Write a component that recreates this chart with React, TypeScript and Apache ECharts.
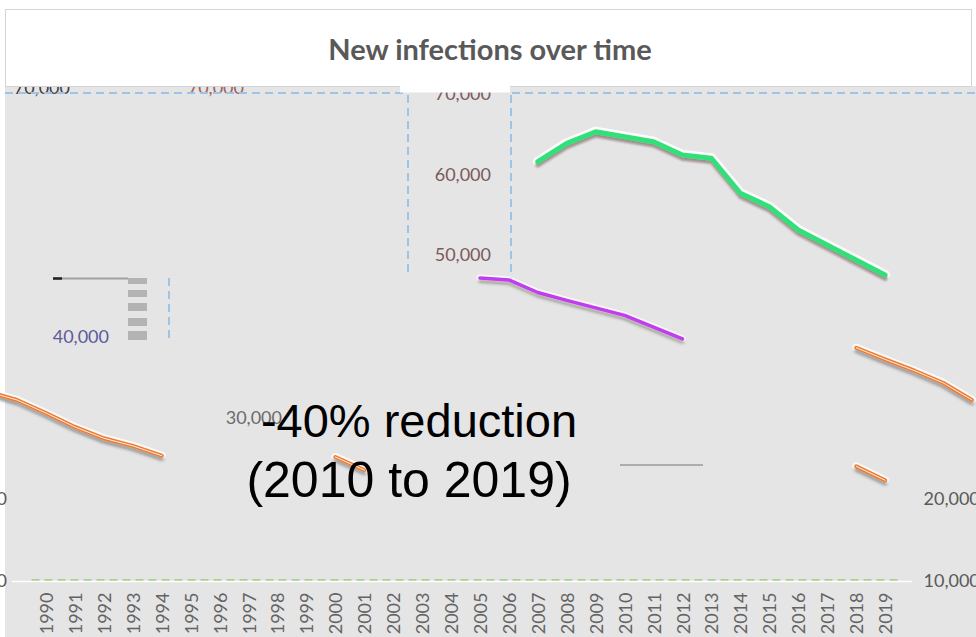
import React, { useEffect, useRef } from "react";
import * as echarts from "echarts";

// ---- data ----
const years = ["1990","1991","1992","1993","1994","1995","1996","1997","1998","1999","2000","2001","2002","2003","2004","2005","2006","2007","2008","2009","2010","2011","2012","2013","2014","2015","2016","2017","2018","2019"];

const greenYears = ["2007","2008","2009","2010","2011","2012","2013","2014","2015","2016","2017","2018","2019"];
const greenValues = [60950, 63190, 64610, 64000, 63390, 61770, 61370, 57100, 55460, 52620, 50790, 48960, 47130];

const purpleYears = ["2005","2006","2007","2008","2009","2010","2011","2012"];
const purpleValues = [46770, 46530, 45000, 44040, 43130, 42210, 40790, 39340];

const orangeRightYears = [2018, 2019, 2020, 2021, 2022];
const orangeRightValues = [38260, 36840, 35490, 33990, 31900];

const orangeLeftYears = [1988, 1989, 1990, 1991, 1992, 1993, 1994];
const orangeLeftValues = [32900, 31890, 30300, 28600, 27220, 26300, 25100];

const orangeMidYears = [2000, 2001];
const orangeMidValues = [24940, 23350];

const orangeTailYears = [2018, 2019];
const orangeTailValues = [23800, 22100];

const rightTicks = [10000, 20000];
const midTicks = [50000, 60000, 70000];
const ticks40 = [40000];
const ticks30 = [30000];
const ticksTopA = [70000];
const ticksTopB = [70000];
const edgeTicks = [10000, 20000];

const fmt = (v: number) => v.toLocaleString("en-US");
const FONT = "Lato, 'Open Sans', sans-serif";

export default function App() {
  const ref = useRef<HTMLDivElement>(null);
  useEffect(() => {
    if (!ref.current) return;
    const chart = echarts.init(ref.current, undefined, { renderer: "svg" });

    const grids: any[] = [
      { left: 31.5, right: 76.5, top: 87.5, bottom: 57.5, containLabel: false, outerBoundsMode: "none" },
      { left: 0, right: 0, top: 87.5, bottom: 57.5, containLabel: false, outerBoundsMode: "none" },
    ];
    const xAxes: any[] = [
      {
        type: "category", gridIndex: 0, data: years, boundaryGap: true,
        axisLine: { show: false }, axisTick: { show: false }, splitLine: { show: false },
        axisLabel: { rotate: 90, interval: 0, color: "#636363", fontSize: 18, fontFamily: FONT, margin: 13 },
      },
      { type: "value", gridIndex: 1, min: 1988.41, max: 2022.14, show: false },
    ];
    const yAxes: any[] = [
      {
        type: "value", gridIndex: 0, min: 10000, max: 70000, interval: 10000, position: "right",
        axisLine: { show: false }, axisTick: { show: false },
        axisLabel: { color: "#595959", fontSize: 18, fontFamily: FONT, margin: 24,
          formatter: (v: number) => (rightTicks.includes(v) ? fmt(v) : "") },
        splitLine: { show: true, lineStyle: {
          color: ["#a9d18e", "transparent", "transparent", "transparent", "transparent", "transparent", "transparent"],
          width: 2, type: [8, 5] } },
      },
      { type: "value", gridIndex: 1, min: 10000, max: 70000, show: false },
    ];

    const addLabelAxis = (rightX: number, y70: number, px10k: number, ticks: number[], color: string) => {
      const gi = grids.length;
      grids.push({ left: rightX + 8, top: y70, width: 2, height: px10k * 6, containLabel: false, outerBoundsMode: "none" });
      xAxes.push({ type: "value", gridIndex: gi, show: false });
      yAxes.push({
        type: "value", gridIndex: gi, min: 10000, max: 70000, interval: 10000, position: "left",
        axisLine: { show: false }, axisTick: { show: false }, splitLine: { show: false },
        axisLabel: { margin: 8, color, fontSize: 18, fontFamily: FONT,
          formatter: (v: number) => (ticks.includes(v) ? fmt(v) : "") },
      });
    };
    addLabelAxis(491, 93, 80.5, midTicks, "#7a5a5a");
    addLabelAxis(109, 89.5, 82, ticks40, "#5b5b9b");
    addLabelAxis(282, 89, 82, ticks30, "#6b6b6b");
    addLabelAxis(244, 87, 82, ticksTopA, "#a06060");
    addLabelAxis(70, 87, 82, ticksTopB, "#404040");
    addLabelAxis(7, 87.5, 82, edgeTicks, "#595959");

    const line = (xIdx: number, yIdx: number, data: any[], color: string, width: number, z: number, extra: any = {}) => ({
      type: "line", xAxisIndex: xIdx, yAxisIndex: yIdx, data, symbol: "none", showSymbol: false,
      clip: false, silent: true, z,
      lineStyle: { color, width, cap: "round", join: "round", ...extra },
    });

    const green = greenYears.map((y, i) => [y, greenValues[i]]);
    const purple = purpleYears.map((y, i) => [y, purpleValues[i]]);
    const oR = orangeRightYears.map((y, i) => [y, orangeRightValues[i]]);
    const oL = orangeLeftYears.map((y, i) => [y, orangeLeftValues[i]]);
    const oM = orangeMidYears.map((y, i) => [y, orangeMidValues[i]]);
    const oT = orangeTailYears.map((y, i) => [y, orangeTailValues[i]]);

    const orangeSet = (d: any[]) => [
      line(1, 1, d, "rgba(255,255,255,0.85)", 8, 2),
      line(1, 1, d, "#ed7d31", 4, 3, { shadowColor: "rgba(60,60,60,0.55)", shadowBlur: 3, shadowOffsetY: 3 }),
      line(1, 1, d, "rgba(255,255,255,0.85)", 1, 4),
    ];

    const series: any[] = [
      line(0, 0, green, "rgba(255,255,255,0.95)", 10, 2),
      line(0, 0, green, "#33e07a", 5, 3, { shadowColor: "rgba(90,60,60,0.6)", shadowBlur: 2, shadowOffsetY: 3 }),
      line(0, 0, purple, "rgba(255,255,255,0.8)", 7, 2),
      line(0, 0, purple, "#c23cf0", 3.5, 3, { shadowColor: "rgba(80,80,60,0.5)", shadowBlur: 3, shadowOffsetY: 3 }),
      ...orangeSet(oR),
      ...orangeSet(oL),
      ...orangeSet(oM),
      ...orangeSet(oT),
    ];

    const dashBlue = { stroke: "#9dc3e6", lineWidth: 2, lineDash: [8, 5] };
    const graphic: any[] = [
      { type: "rect", z: -10, shape: { x: 5, y: 86, width: 971, height: 551 }, style: { fill: "#e5e5e5" } },
      { type: "line", z: 1, shape: { x1: 12, y1: 581.5, x2: 912, y2: 581.5 }, style: { stroke: "#ffffff", lineWidth: 1.5 } },
      { type: "line", z: 1, shape: { x1: 5, y1: 93, x2: 408, y2: 93 }, style: dashBlue },
      { type: "line", z: 1, shape: { x1: 512, y1: 93, x2: 976, y2: 93 }, style: dashBlue },
      { type: "line", z: 1, shape: { x1: 408, y1: 95, x2: 408, y2: 276 }, style: dashBlue },
      { type: "line", z: 1, shape: { x1: 511, y1: 95, x2: 511, y2: 280 }, style: dashBlue },
      { type: "line", z: 1, shape: { x1: 169, y1: 278, x2: 169, y2: 340 }, style: dashBlue },
      { type: "line", z: 1, shape: { x1: 53, y1: 278.5, x2: 128, y2: 278.5 }, style: { stroke: "#a0a0a0", lineWidth: 2 } },
      { type: "line", z: 1, shape: { x1: 53, y1: 278.5, x2: 62, y2: 278.5 }, style: { stroke: "#222222", lineWidth: 2.5 } },
      { type: "rect", z: 1, shape: { x: 128, y: 278, width: 19, height: 6 }, style: { fill: "#b3b3b3" } },
      { type: "rect", z: 1, shape: { x: 128, y: 290, width: 19, height: 7 }, style: { fill: "#b3b3b3" } },
      { type: "rect", z: 1, shape: { x: 128, y: 303, width: 19, height: 8 }, style: { fill: "#b3b3b3" } },
      { type: "rect", z: 1, shape: { x: 128, y: 318, width: 19, height: 8 }, style: { fill: "#b3b3b3" } },
      { type: "rect", z: 1, shape: { x: 128, y: 331, width: 19, height: 9 }, style: { fill: "#b3b3b3" } },
      { type: "line", z: 1, shape: { x1: 620, y1: 465, x2: 703, y2: 465 }, style: { stroke: "#9a9a9a", lineWidth: 1.5 } },
      { type: "rect", z: 60, shape: { x: 400, y: 86, width: 110, height: 6.5 }, style: { fill: "#ffffff" } },
      { type: "rect", z: 50, shape: { x: 5.5, y: 9.5, width: 966, height: 77 }, style: { fill: "#ffffff", stroke: "#d4d4d4", lineWidth: 1 } },
      { type: "text", z: 51, x: 490, y: 48, style: { text: "New infections over time", font: `bold 29px ${FONT}`, fill: "#595959", align: "center", verticalAlign: "middle", textAlign: "center", textVerticalAlign: "middle" } },
      { type: "text", z: 20, x: 419, y: 420, style: { text: "-40% reduction", font: `47px 'Liberation Sans', Arial, sans-serif`, fill: "#000000", align: "center", verticalAlign: "middle", textAlign: "center", textVerticalAlign: "middle" } },
      { type: "text", z: 20, x: 409, y: 480, style: { text: "(2010 to 2019)", font: `50px 'Liberation Sans', Arial, sans-serif`, fill: "#000000", align: "center", verticalAlign: "middle", textAlign: "center", textVerticalAlign: "middle" } },
    ];

    chart.setOption({
      animation: false,
      backgroundColor: "#ffffff",
      grid: grids,
      xAxis: xAxes,
      yAxis: yAxes,
      series,
      graphic,
    });
    return () => chart.dispose();
  }, []);
  return <div ref={ref} style={{ position: "fixed", left: 0, top: 0, width: 976, height: 637 }} />;
}
